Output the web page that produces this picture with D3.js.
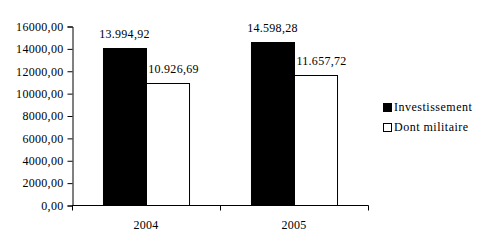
<!DOCTYPE html>
<html>
<head>
<meta charset="utf-8">
<script src="https://cdn.jsdelivr.net/npm/d3@7"></script>
<style>
  body { margin: 0; background: #fff; }
</style>
</head>
<body>
<div id="chart"></div>
<script>
/* données */
var years = ["2004", "2005"]
var seriesNames = ["Investissement", "Dont militaire"]
var investissement = [13994.92, 14598.28]
var militaire = [10926.69, 11657.72]
var yTicks = [0, 2000, 4000, 6000, 8000, 10000, 12000, 14000, 16000]

var FONT = "'Liberation Serif', 'Times New Roman', Times, serif"
var w = 487, h = 251
var svg = d3.select("#chart").append("svg")
    .attr("width", w)
    .attr("height", h)

var loc = d3.formatLocale({ decimal: ",", thousands: ".", grouping: [3], currency: ["", ""] })
var fmtVal = loc.format(",.2f")
var fmtTick = loc.format(".2f")

var x = d3.scaleBand().domain(years).range([72, 368]).padding(0)
var xs = d3.scaleBand().domain(seriesNames).range([0, x.bandwidth()]).paddingInner(0).paddingOuter(0.72)
var y = d3.scaleLinear().domain([0, 16000]).range([205, 26])

var rows = years.map(function (yr, i) {
  return { year: yr, vals: [investissement[i], militaire[i]] }
})
var colors = ["#000", "#fff"]

/* barres */
var g = svg.selectAll("g.grp").data(rows).enter().append("g")
    .attr("class", "grp")
    .attr("transform", function (d) { return "translate(" + x(d.year) + ",0)" })

g.selectAll("rect").data(function (d) { return d.vals }).enter().append("rect")
    .attr("x", function (v, i) { return xs(seriesNames[i]) + 0.5 })
    .attr("y", function (v) { return Math.round(y(v)) + 0.5 })
    .attr("width", xs.bandwidth())
    .attr("height", function (v) { return Math.round(y(0)) - Math.round(y(v)) })
    .attr("fill", function (v, i) { return colors[i] })
    .attr("stroke", "#000")
    .attr("stroke-width", 1)

g.selectAll("text.val").data(function (d) { return d.vals }).enter().append("text")
    .attr("class", "val")
    .attr("x", function (v, i) { return xs(seriesNames[i]) + xs.bandwidth() / 2 + (i === 1 ? 6 : 0) })
    .attr("y", function (v) { return y(v) - 10 })
    .attr("text-anchor", "middle")
    .text(function (v) { return fmtVal(v) })

/* axes */
var yAxis = d3.axisLeft(y).tickValues(yTicks).tickFormat(fmtTick).tickSize(5).tickPadding(4)
var ya = svg.append("g").attr("transform", "translate(72.5,0.5)").call(yAxis)
ya.select(".domain").attr("stroke", "#000")

var xAxis = d3.axisBottom(x).tickSize(0).tickPadding(15)
var xa = svg.append("g").attr("transform", "translate(0,205.5)").call(xAxis)
xa.select(".domain").attr("d", "M72,0H368.5")
xa.selectAll("line.sep").data([72, 220, 368]).enter().append("line")
    .attr("class", "sep")
    .attr("x1", function (d) { return d + 0.5 }).attr("x2", function (d) { return d + 0.5 })
    .attr("y1", 0).attr("y2", 5).attr("stroke", "#000")

/* légende */
var leg = svg.append("g").attr("transform", "translate(383,103)")
var li = leg.selectAll("g").data(seriesNames).enter().append("g")
    .attr("transform", function (d, i) { return "translate(0," + (i * 20) + ")" })
li.append("rect")
    .attr("x", 0.5).attr("y", 0.5).attr("width", 8).attr("height", 8)
    .attr("fill", function (d, i) { return colors[i] })
    .attr("stroke", "#000")
li.append("text")
    .attr("class", "leg")
    .attr("x", 11).attr("y", 8)
    .text(function (d) { return d })

/* police */
svg.selectAll("text")
    .attr("font-family", null)
    .attr("font-size", null)
    .style("font-family", FONT)
    .style("font-size", "12px")
    .style("letter-spacing", "0.3px")
    .style("fill", "#000")
svg.selectAll("text.leg").style("letter-spacing", "0.5px")
svg.selectAll("g").attr("font-family", null).attr("font-size", null)
</script>
</body>
</html>
